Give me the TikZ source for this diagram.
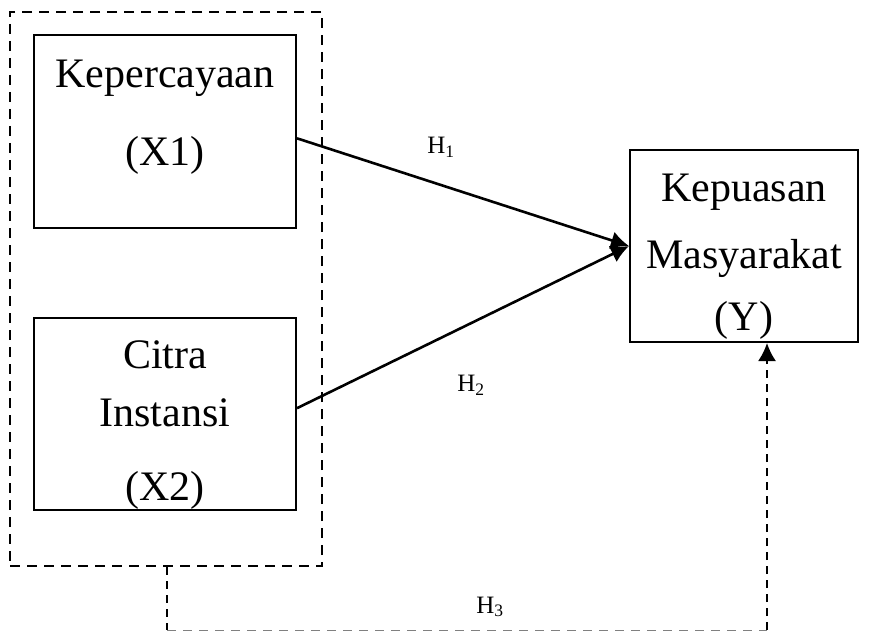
\documentclass[tikz,border=0pt]{standalone}
\usepackage{fontspec}
\setmainfont{Liberation Serif}
\usetikzlibrary{arrows.meta,calc}
\begin{document}
\begin{tikzpicture}[x=1pt,y=-1pt,
  box/.style={draw,line width=2pt,inner sep=0pt},
  lbl/.style={font=\fontsize{42}{46}\selectfont,inner sep=0pt},
  hlbl/.style={font=\fontsize{25}{28}\selectfont,inner sep=0pt},
  arr/.style={line width=2.6pt,-{Latex[length=18pt,width=18pt]}},
  dbox/.style={draw,line width=2pt,dash pattern=on 10pt off 7pt,inner sep=0pt}]
\useasboundingbox (0,0) rectangle (885,631);
\node[dbox,minimum width=312,minimum height=554] (grp) at (166,289) {};
\node[box,minimum width=262,minimum height=193] (x1) at (165,131.5) {};
\node[box,minimum width=262,minimum height=192] (x2) at (165,414) {};
\node[box,minimum width=228,minimum height=192] (y) at (744,246) {};
\node[lbl] (t11) at (165,78) {Kepercayaan};
\node[lbl] (t12) at (165,155) {(X1)};
\node[lbl] (t21) at (165,355) {Citra};
\node[lbl] (t22) at (165,413) {Instansi};
\node[lbl] (t23) at (165,490) {(X2)};
\node[lbl] (ty1) at (744,192) {Kepuasan};
\node[lbl] (ty2) at (744,258) {Masyarakat};
\node[lbl] (ty3) at (744,320) {(Y)};
\node[hlbl] (h1) at (441,147) {H\textsubscript{1}};
\node[hlbl] (h2) at (471,385) {H\textsubscript{2}};
\node[hlbl] (h3) at (490,607) {H\textsubscript{3}};
\draw[arr] ($(x1.north east)!0.535!(x1.south east)$) -- (y.west);
\draw[arr] ($(x2.north east)!0.47!(x2.south east)$) -- (y.west);
\coordinate (c1) at (167,630);
\coordinate (c2) at (767,630);
\draw[line width=2pt,dash pattern=on 8pt off 6pt] (grp.south -| c1) -- (c1);
\draw[line width=1pt,gray,dash pattern=on 9pt off 7pt] (c1) -- (c2);
\draw[line width=2pt,dash pattern=on 8pt off 6pt,-{Latex[length=18pt,width=18pt]}] (c2) -- (y.south -| c2);
\end{tikzpicture}
\end{document}
